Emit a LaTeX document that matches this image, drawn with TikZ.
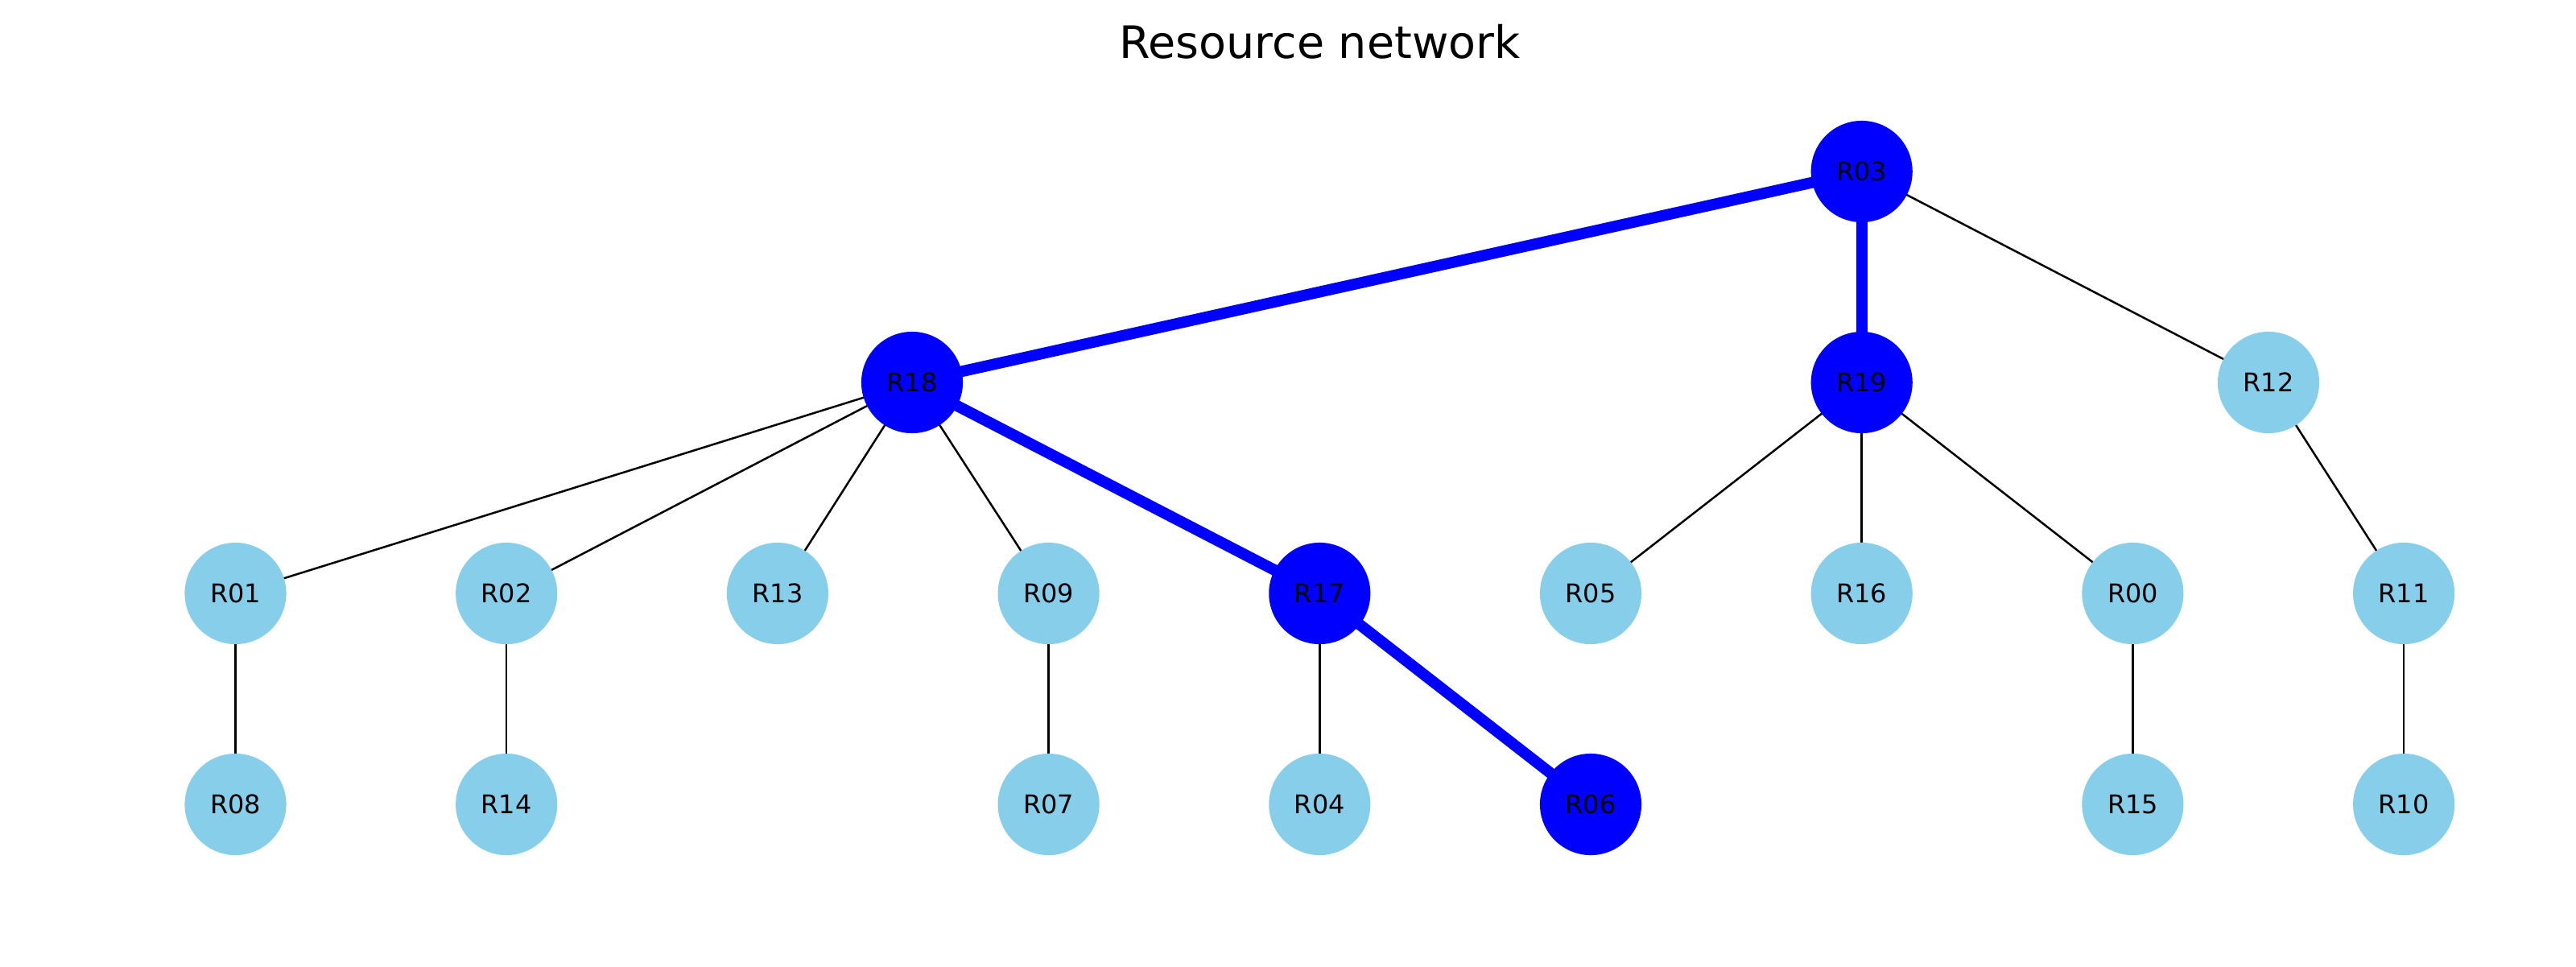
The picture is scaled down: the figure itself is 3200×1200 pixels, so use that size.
\documentclass[tikz,border=0pt]{standalone}
\usepackage{fontspec}
\setmainfont{DejaVu Sans}
\usetikzlibrary{backgrounds}
\definecolor{hot}{HTML}{0000FF}
\definecolor{cool}{HTML}{87CEEB}
\begin{document}
\begin{tikzpicture}[x=0.36pt,y=-0.36pt,
  res/.style={circle,fill=cool,minimum size=45.4pt,inner sep=0pt,
    font=\fontsize{11.5}{11.5}\selectfont},
  onpath/.style={res,fill=hot},
  link/.style={draw=black,line width=0.9pt},
  route/.style={draw=hot,line width=5pt}]
\useasboundingbox (0,0) rectangle (3200,1200);
\node[anchor=base,font=\fontsize{20}{20}\selectfont] (title) at (1639.5,72.7) {Resource network};
% top
\node[onpath] (R03) at (2312.7,213) {R03};
% second row
\node[onpath] (R18) at (1133,475) {R18};
\node[onpath] (R19) at (2312.7,475) {R19};
\node[res] (R12) at (2818,475) {R12};
% third row
\node[res] (R01) at (292.5,737) {R01};
\node[res] (R02) at (629.2,737) {R02};
\node[res] (R13) at (965.9,737) {R13};
\node[res] (R09) at (1302.6,737) {R09};
\node[onpath] (R17) at (1639.3,737) {R17};
\node[res] (R05) at (1976,737) {R05};
\node[res] (R16) at (2312.7,737) {R16};
\node[res] (R00) at (2649.4,737) {R00};
\node[res] (R11) at (2986.1,737) {R11};
% bottom row
\node[res] (R08) at (292.5,999) {R08};
\node[res] (R14) at (629.2,999) {R14};
\node[res] (R07) at (1302.6,999) {R07};
\node[res] (R04) at (1639.3,999) {R04};
\node[onpath] (R06) at (1976,999) {R06};
\node[res] (R15) at (2649.4,999) {R15};
\node[res] (R10) at (2986.1,999) {R10};
\begin{pgfonlayer}{background}
  \foreach \a/\b in {R03/R12,R18/R01,R18/R02,R18/R13,R18/R09,R19/R05,R19/R16,R19/R00,
                     R12/R11,R01/R08,R02/R14,R09/R07,R17/R04,R00/R15,R11/R10}
    \draw[link] (\a.center) -- (\b.center);
  \foreach \a/\b in {R03/R18,R03/R19,R18/R17,R17/R06}
    \draw[route] (\a.center) -- (\b.center);
\end{pgfonlayer}
\end{tikzpicture}
\end{document}
